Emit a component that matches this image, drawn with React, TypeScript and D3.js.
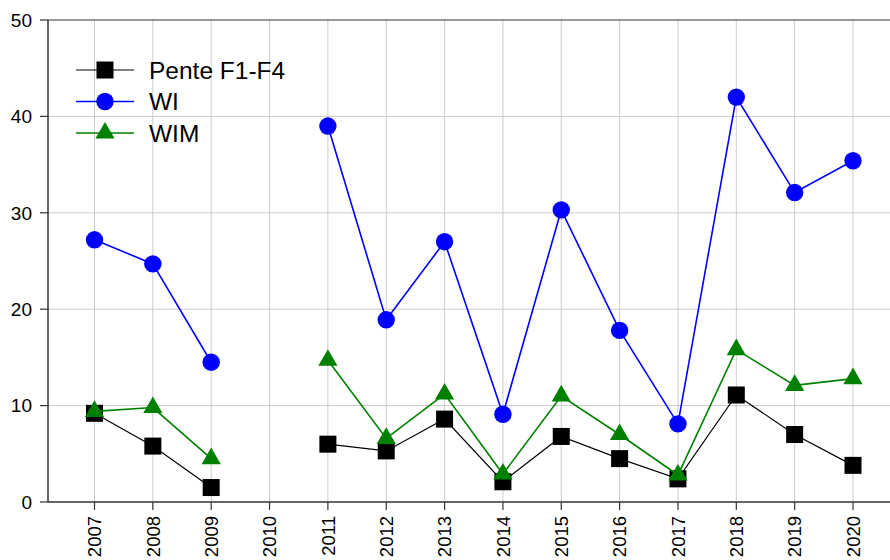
import React, { useEffect, useRef } from 'react';
import * as d3 from 'd3';

const years = [2007, 2008, 2009, 2010, 2011, 2012, 2013, 2014, 2015, 2016, 2017, 2018, 2019, 2020];
const pente = [9.2, 5.8, 1.5, null, 6.0, 5.3, 8.6, 2.1, 6.8, 4.5, 2.4, 11.1, 7.0, 3.8];
const wi = [27.2, 24.7, 14.5, null, 39.0, 18.9, 27.0, 9.1, 30.3, 17.8, 8.1, 42.0, 32.1, 35.4];
const wim = [9.4, 9.8, 4.5, null, 14.7, 6.6, 11.2, 2.9, 11.0, 7.0, 2.8, 15.8, 12.1, 12.8];
const yTicks = [0, 10, 20, 30, 40, 50];

const series = [
    { name: 'Pente F1-F4', values: pente, color: '#000000', marker: 'square', width: 1.2 },
    { name: 'WI', values: wi, color: '#0000ff', marker: 'circle', width: 1.6 },
    { name: 'WIM', values: wim, color: '#008000', marker: 'triangle', width: 1.6 },
];

const App = () => {
    const svgRef = useRef<SVGSVGElement>(null);

    useEffect(() => {
        const svg = d3.select(svgRef.current);
        svg.selectAll('*').remove();

        const left = 48;
        const right = 890;
        const top = 20;
        const bottom = 502;

        const x = d3.scaleLinear()
            .domain([2007, 2020])
            .range([94.5, 853]);
        const y = d3.scaleLinear().domain([0, 50]).range([bottom, top]);

        const font = '"Liberation Sans", Arial, sans-serif';

        // grid
        svg.append('g').selectAll('line.v')
            .data(years)
            .enter().append('line')
            .attr('x1', d => x(d)).attr('x2', d => x(d))
            .attr('y1', top).attr('y2', bottom)
            .attr('stroke', '#cccccc').attr('stroke-width', 1);
        svg.append('g').selectAll('line.h')
            .data(yTicks.filter(t => t > 0 && t < 50))
            .enter().append('line')
            .attr('x1', left).attr('x2', right)
            .attr('y1', d => y(d)).attr('y2', d => y(d))
            .attr('stroke', '#cccccc').attr('stroke-width', 1);

        // axes
        const axisColor = '#333333';
        svg.append('line').attr('x1', left).attr('x2', right).attr('y1', bottom).attr('y2', bottom)
            .attr('stroke', axisColor).attr('stroke-width', 1.5);
        svg.append('line').attr('x1', left).attr('x2', right).attr('y1', top).attr('y2', top)
            .attr('stroke', axisColor).attr('stroke-width', 1.2);
        svg.append('line').attr('x1', left).attr('x2', left).attr('y1', top).attr('y2', bottom)
            .attr('stroke', axisColor).attr('stroke-width', 1.5);

        const yg = svg.append('g');
        yTicks.forEach(t => {
            yg.append('line').attr('x1', left - 8).attr('x2', left).attr('y1', y(t)).attr('y2', y(t))
                .attr('stroke', axisColor).attr('stroke-width', 1.2);
            yg.append('text').attr('x', left - 16).attr('y', y(t)).attr('dy', '0.36em')
                .attr('text-anchor', 'end').attr('font-family', font).attr('font-size', 19)
                .attr('fill', '#000').text(t);
        });

        const xg = svg.append('g');
        years.forEach(yr => {
            xg.append('line').attr('x1', x(yr)).attr('x2', x(yr)).attr('y1', bottom).attr('y2', bottom + 8)
                .attr('stroke', axisColor).attr('stroke-width', 1.2);
            xg.append('text')
                .attr('transform', `translate(${x(yr)},${bottom + 14}) rotate(-90)`)
                .attr('dy', '0.36em')
                .attr('text-anchor', 'end').attr('font-family', font).attr('font-size', 18.5)
                .attr('fill', '#000').text(yr);
        });

        const drawMarker = (g: any, type: string, cx: number, cy: number, color: string) => {
            if (type === 'square') {
                g.append('rect').attr('x', cx - 8.5).attr('y', cy - 8.5).attr('width', 17).attr('height', 17)
                    .attr('fill', color);
            } else if (type === 'circle') {
                g.append('circle').attr('cx', cx).attr('cy', cy).attr('r', 8.7).attr('fill', color);
            } else {
                const s = d3.symbol().type(d3.symbolTriangle).size(160);
                g.append('path').attr('d', s()).attr('transform', `translate(${cx},${cy})`)
                    .attr('fill', color);
            }
        };

        const line = d3.line<any>()
            .defined(d => d.v !== null)
            .x(d => x(d.yr))
            .y(d => y(d.v));

        series.forEach(s => {
            const pts = years.map((yr, i) => ({ yr, v: s.values[i] }));
            const g = svg.append('g');
            g.append('path').datum(pts).attr('d', line)
                .attr('fill', 'none').attr('stroke', s.color).attr('stroke-width', s.width);
            pts.filter(p => p.v !== null).forEach(p => drawMarker(g, s.marker, x(p.yr), y(p.v as number), s.color));
        });

        // legend
        const lg = svg.append('g');
        series.forEach((s, i) => {
            const ly = 70 + i * 31.5;
            lg.append('line').attr('x1', 76).attr('x2', 134).attr('y1', ly).attr('y2', ly)
                .attr('stroke', s.color).attr('stroke-width', s.width);
            drawMarker(lg, s.marker, 105, ly, s.color);
            lg.append('text').attr('x', 149).attr('y', ly).attr('dy', '0.36em')
                .attr('font-family', font).attr('font-size', 24.5).attr('fill', '#000').text(s.name);
        });
    }, []);

    return (
        <svg ref={svgRef} width={890} height={560}
            style={{ position: 'absolute', left: 0, top: 0, background: '#fff' }} />
    );
};

export default App;
